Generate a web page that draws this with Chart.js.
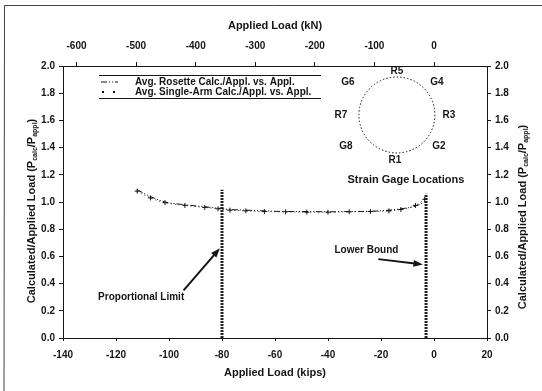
<!DOCTYPE html>
<html>
<head>
<meta charset="utf-8">
<script src="https://cdn.jsdelivr.net/npm/chart.js@4.4.1/dist/chart.umd.min.js"></script>
<style>
  html, body { margin: 0; padding: 0; background: #fff; }
  #wrap { width: 542px; height: 391px; position: relative; }
</style>
</head>
<body>
<div id="wrap"><canvas id="chart" width="542" height="391"></canvas></div>
<script>
// values
var loadKips = [-112, -107, -101.5, -94, -86.5, -81.5, -77, -71, -64, -56, -48, -40, -32, -24, -17, -12.5, -7, -3.5];
var rosetteRatio = [1.09, 1.04, 1.0, 0.98, 0.965, 0.955, 0.945, 0.94, 0.935, 0.93, 0.93, 0.928, 0.93, 0.932, 0.94, 0.95, 0.97, 1.0];
var singleArmRatio = [1.08, 1.03, 0.995, 0.975, 0.96, 0.95, 0.94, 0.935, 0.93, 0.928, 0.925, 0.925, 0.928, 0.93, 0.935, 0.945, 0.975, 1.02];

var propLimitX = [-80, -80];
var propLimitY = [0, 1.09];
var lowerBoundX = [-3, -3];
var lowerBoundY = [0, 1.06];

var kipsTicks = [-140, -120, -100, -80, -60, -40, -20, 0, 20];
var knTicks = [-600, -500, -400, -300, -200, -100, 0];
var ratioTicks = [0, 0.2, 0.4, 0.6, 0.8, 1.0, 1.2, 1.4, 1.6, 1.8, 2.0];
var gageLabels = ["R5", "G4", "R3", "G2", "R1", "G8", "R7", "G6"];

var KN_PER_KIP = 4.448;
var FONT = "'Liberation Sans', Arial, sans-serif";
var INK = "#151515";

function pts(xs, ys) {
  return xs.map(function (x, i) { return { x: x, y: ys[i] }; });
}

function fixTicks(values) {
  return function (scale) {
    scale.ticks = values.map(function (v) { return { value: v }; });
  };
}

function arrow(ctx, x1, y1, x2, y2) {
  var a = Math.atan2(y2 - y1, x2 - x1);
  ctx.beginPath();
  ctx.moveTo(x1, y1);
  ctx.lineTo(x2 - 6 * Math.cos(a), y2 - 6 * Math.sin(a));
  ctx.lineWidth = 2;
  ctx.stroke();
  ctx.beginPath();
  ctx.moveTo(x2, y2);
  ctx.lineTo(x2 - 10 * Math.cos(a - 0.35), y2 - 10 * Math.sin(a - 0.35));
  ctx.lineTo(x2 - 10 * Math.cos(a + 0.35), y2 - 10 * Math.sin(a + 0.35));
  ctx.closePath();
  ctx.fill();
}

function yTitle(ctx, x, y, rot) {
  ctx.save();
  ctx.translate(x, y);
  ctx.rotate(rot);
  var big = "bold 11px " + FONT, small = "bold 7px " + FONT;
  var parts = [
    ["Calculated/Applied Load (P", big, 0],
    ["calc", small, 3],
    ["/P", big, 0],
    ["appl", small, 3],
    [")", big, 0]
  ];
  var total = 0;
  parts.forEach(function (p) { ctx.font = p[1]; total += ctx.measureText(p[0]).width; });
  var cx = -total / 2;
  ctx.textBaseline = "middle";
  ctx.textAlign = "left";
  parts.forEach(function (p) {
    ctx.font = p[1];
    ctx.fillText(p[0], cx, p[2]);
    cx += ctx.measureText(p[0]).width;
  });
  ctx.restore();
}

var extras = {
  id: "extras",
  afterDraw: function (chart) {
    var ctx = chart.ctx;
    var sx = chart.scales.x, sy = chart.scales.y;
    ctx.save();
    ctx.fillStyle = INK;
    ctx.strokeStyle = INK;

    // scan frame
    ctx.lineWidth = 1;
    ctx.strokeStyle = "#444";
    ctx.beginPath();
    ctx.moveTo(4, 391);
    ctx.lineTo(4.5, 5.5);
    ctx.lineTo(542, 5.5);
    ctx.stroke();
    ctx.strokeStyle = INK;

    yTitle(ctx, 32, 211, -Math.PI / 2);
    yTitle(ctx, 523, 217, -Math.PI / 2);

    // legend (only the top and bottom rules survive in the scan)
    var lx = chart.chartArea.left + 36, ly = chart.chartArea.top + 9;
    ctx.lineWidth = 1;
    ctx.beginPath();
    ctx.moveTo(lx, ly + 0.5);
    ctx.lineTo(lx + 222, ly + 0.5);
    ctx.moveTo(lx, ly + 23.5);
    ctx.lineTo(lx + 222, ly + 23.5);
    ctx.stroke();
    ctx.beginPath();
    ctx.setLineDash([6, 2, 1, 2, 1, 2]);
    ctx.moveTo(lx + 2, ly + 7);
    ctx.lineTo(lx + 19, ly + 7);
    ctx.stroke();
    ctx.setLineDash([]);
    [lx + 4, lx + 15].forEach(function (px) {
      ctx.fillRect(px - 1, ly + 16, 2, 2);
    });
    ctx.font = "bold 10px " + FONT;
    ctx.textAlign = "left";
    ctx.textBaseline = "middle";
    ctx.fillText("Avg. Rosette Calc./Appl. vs. Appl.", lx + 36, ly + 7);
    ctx.fillText("Avg. Single-Arm Calc./Appl. vs. Appl.", lx + 36, ly + 17);

    // strain gage ring
    var cx = sx.getPixelForValue(-14), cy = sy.getPixelForValue(1.64), r = 38;
    ctx.beginPath();
    ctx.setLineDash([1.5, 2]);
    ctx.arc(cx, cy, r, 0, Math.PI * 2);
    ctx.stroke();
    ctx.setLineDash([]);
    var offs = [[0, -44], [40, -33], [52, 0], [42, 31], [-2, 45], [-51, 31], [-56, 0], [-49, -33]];
    ctx.textAlign = "center";
    ctx.font = "bold 10px " + FONT;
    gageLabels.forEach(function (t, i) {
      ctx.fillText(t, cx + offs[i][0], cy + offs[i][1]);
    });
    ctx.font = "bold 11px " + FONT;
    ctx.fillText("Strain Gage Locations", cx + 9, cy + 65);

    // callouts
    ctx.font = "bold 10px " + FONT;
    ctx.fillText("Proportional Limit", sx.getPixelForValue(-110.5), sy.getPixelForValue(0.30));
    ctx.fillText("Lower Bound", sx.getPixelForValue(-25.5), sy.getPixelForValue(0.645));
    arrow(ctx, sx.getPixelForValue(-94.5), sy.getPixelForValue(0.35),
      sx.getPixelForValue(-80.8), sy.getPixelForValue(0.66));
    arrow(ctx, sx.getPixelForValue(-21), sy.getPixelForValue(0.58),
      sx.getPixelForValue(-4.2), sy.getPixelForValue(0.54));
    ctx.restore();
  }
};

var tickFont = { family: FONT, size: 10, weight: "bold" };
var titleFont = { family: FONT, size: 11, weight: "bold" };

new Chart(document.getElementById("chart"), {
  type: "scatter",
  data: {
    datasets: [
      {
        label: "Avg. Rosette Calc./Appl. vs. Appl.",
        data: pts(loadKips, rosetteRatio),
        showLine: true,
        borderColor: INK,
        borderWidth: 1,
        borderDash: [6, 2, 1, 2, 1, 2],
        cubicInterpolationMode: "monotone",
        pointRadius: 0
      },
      {
        label: "Avg. Single-Arm Calc./Appl. vs. Appl.",
        data: pts(loadKips, singleArmRatio),
        showLine: true,
        borderColor: INK,
        borderWidth: 1,
        borderDash: [1, 3],
        cubicInterpolationMode: "monotone",
        pointStyle: "cross",
        pointRadius: 2.5,
        pointBorderColor: INK,
        pointBorderWidth: 1
      },
      {
        label: "Proportional Limit",
        data: pts(propLimitX, propLimitY),
        showLine: true,
        borderColor: "#222",
        borderWidth: 3,
        borderDash: [2, 1],
        pointRadius: 0
      },
      {
        label: "Lower Bound",
        data: pts(lowerBoundX, lowerBoundY),
        showLine: true,
        borderColor: "#222",
        borderWidth: 3,
        borderDash: [2, 1],
        pointRadius: 0
      }
    ]
  },
  options: {
    responsive: false,
    animation: false,
    devicePixelRatio: 1,
    layout: { padding: 0 },
    plugins: { legend: { display: false }, tooltip: { enabled: false } },
    scales: {
      x: {
        type: "linear",
        position: "bottom",
        min: -140,
        max: 20,
        afterBuildTicks: fixTicks(kipsTicks),
        afterFit: function (s) { s.height = 53; },
        grid: { drawOnChartArea: false, color: INK, tickLength: 3 },
        border: { color: INK, width: 1 },
        ticks: { color: INK, font: tickFont, padding: 8, maxRotation: 0 },
        title: { display: true, text: "Applied Load (kips)", color: INK, font: titleFont, padding: { top: 0, bottom: 11 } }
      },
      x2: {
        type: "linear",
        position: "top",
        min: -140 * KN_PER_KIP,
        max: 20 * KN_PER_KIP,
        afterBuildTicks: fixTicks(knTicks),
        afterFit: function (s) { s.height = 66; },
        grid: { drawOnChartArea: false, color: INK, tickLength: 4 },
        border: { color: INK, width: 1 },
        ticks: { color: INK, font: tickFont, padding: 10, maxRotation: 0 },
        title: { display: true, text: "Applied Load (kN)", color: INK, font: titleFont, padding: { top: 19, bottom: 0 } }
      },
      y: {
        type: "linear",
        position: "left",
        min: 0,
        max: 2,
        afterBuildTicks: fixTicks(ratioTicks),
        afterFit: function (s) { s.width = 63; },
        grid: { drawOnChartArea: false, color: INK, tickLength: 4 },
        border: { color: INK, width: 1 },
        ticks: { color: INK, font: tickFont, padding: 4, callback: function (v) { return v.toFixed(1); } }
      },
      y2: {
        type: "linear",
        position: "right",
        min: 0,
        max: 2,
        afterBuildTicks: fixTicks(ratioTicks),
        afterFit: function (s) { s.width = 55; },
        grid: { drawOnChartArea: false, color: INK, tickLength: 4 },
        border: { color: INK, width: 1 },
        ticks: { color: INK, font: tickFont, padding: 4, callback: function (v) { return v.toFixed(1); } }
      }
    }
  },
  plugins: [extras]
});
</script>
</body>
</html>
